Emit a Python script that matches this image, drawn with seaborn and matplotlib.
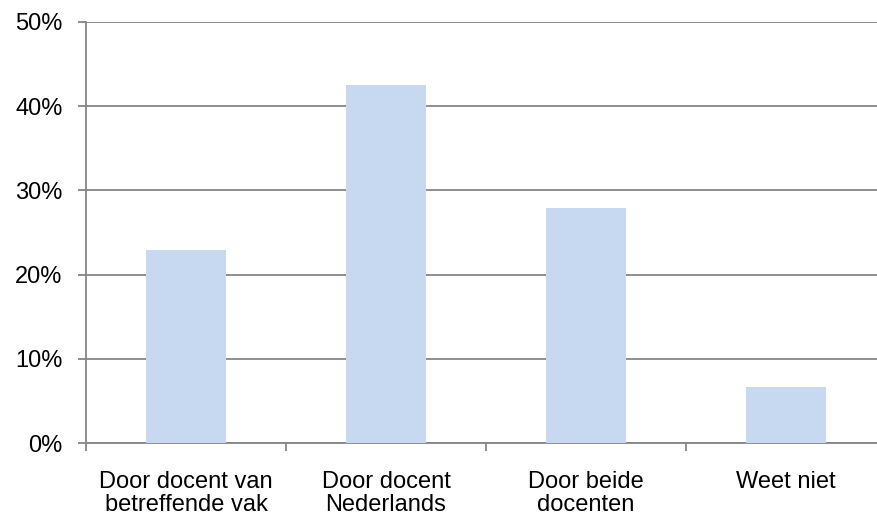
import matplotlib
matplotlib.use("Agg")
import matplotlib.pyplot as plt
import seaborn as sns
import pandas as pd
from matplotlib.ticker import PercentFormatter, FixedLocator

categories = ["Door docent van\nbetreffende vak", "Door docent\nNederlands",
              "Door beide\ndocenten", "Weet niet"]
values = [22.9, 42.5, 27.9, 6.65]

sns.set_style("white")
plt.rcParams['font.family'] = ['Liberation Sans', 'DejaVu Sans']

df = pd.DataFrame({"cat": categories, "val": values})

fig = plt.figure(figsize=(8.78, 5.2), dpi=100)
ax = fig.add_axes([86/878, 77/520, 800/878, 421/520])

sns.barplot(data=df, x="cat", y="val", color="#C6D9F1", width=0.4,
            saturation=1, linewidth=0, ax=ax, zorder=3)

ax.set_ylim(0, 50)
ax.set_xlim(-0.5, 3.5)
ax.set_yticks([0, 10, 20, 30, 40, 50])
ax.yaxis.set_major_formatter(PercentFormatter(decimals=0))
ax.yaxis.grid(True, color="#868686", linewidth=1.3, zorder=0)
ax.set_axisbelow(True)

for s in ["top", "right"]:
    ax.spines[s].set_visible(False)
for s in ["left", "bottom"]:
    ax.spines[s].set_color("#868686")
    ax.spines[s].set_linewidth(1.3)

ax.xaxis.set_minor_locator(FixedLocator([-0.5, 0.5, 1.5, 2.5]))
ax.tick_params(axis="x", which="major", length=0, pad=20, labelsize=17, labelcolor="black")
ax.tick_params(axis="x", which="minor", length=6, width=1.3, color="#868686", direction="out")
ax.tick_params(axis="y", length=6, width=1.3, color="#868686", direction="out", pad=11,
               labelsize=17, labelcolor="black")
ax.tick_params(bottom=True, left=True, which="both")
for lbl in ax.get_xticklabels():
    lbl.set_linespacing(1.05)

ax.set_xlabel("")
ax.set_ylabel("")

fig.savefig("out.png", dpi=100)
